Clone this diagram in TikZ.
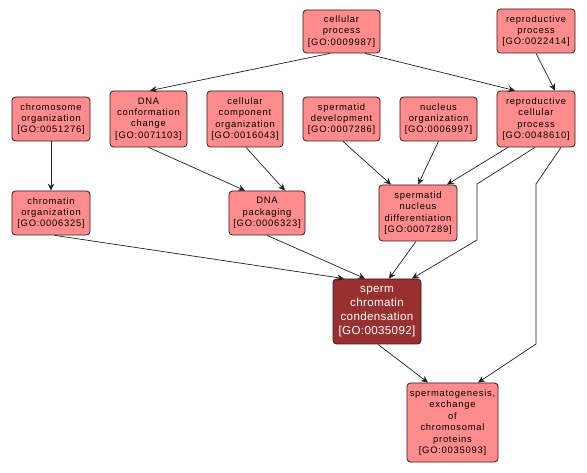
\documentclass[tikz,border=0pt]{standalone}
\usepackage{fontspec}
\setmainfont{Liberation Sans}
\newfontfamily\gofont[LetterSpace=8]{Liberation Sans}
\newfontfamily\gobigfont[LetterSpace=3]{Liberation Sans}
\usetikzlibrary{arrows.meta, positioning}
\definecolor{TermFill}{HTML}{FF8C8C}
\definecolor{TermDraw}{HTML}{3A1A1A}
\definecolor{FocusFill}{HTML}{983030}
\definecolor{LinkCol}{HTML}{202020}
\tikzset{
    goterm/.style={rectangle, rounded corners=3.5pt, fill=TermFill, draw=TermDraw, line width=0.8pt, align=center, inner sep=0pt,
        font=\gofont\fontsize{9.4}{11.4}\selectfont, text=black},
    gofocus/.style={goterm, fill=FocusFill, text=white, font=\gobigfont\fontsize{11.6}{14}\selectfont},
    rel/.style={-{Stealth[length=7pt, width=6.5pt, inset=2.5pt]}, line width=0.7pt, color=LinkCol},
}
\begin{document}
\begin{tikzpicture}[x=1pt, y=-1pt]
    \useasboundingbox[fill=white] (0,0) rectangle (587,473);
    % Termini GO
    \node[goterm, minimum width=77pt, minimum height=43pt] (cellproc) at (341.5,31.5) {cellular\\process\\{[GO:0009987]}};
    \node[goterm, minimum width=78pt, minimum height=44pt] (reproproc) at (536,31) {reproductive\\process\\{[GO:0022414]}};
    \node[goterm, minimum width=78pt, minimum height=44pt] (chromorg) at (51,119) {chromosome\\organization\\{[GO:0051276]}};
    \node[goterm, minimum width=77pt, minimum height=56pt] (dnaconf) at (148.5,119) {DNA\\conformation\\change\\{[GO:0071103]}};
    \node[goterm, minimum width=76pt, minimum height=56pt] (cellcomp) at (245,119) {cellular\\component\\organization\\{[GO:0016043]}};
    \node[goterm, minimum width=77pt, minimum height=44pt] (spdev) at (341.5,119) {spermatid\\development\\{[GO:0007286]}};
    \node[goterm, minimum width=77pt, minimum height=44pt] (nucorg) at (438.5,119) {nucleus\\organization\\{[GO:0006997]}};
    \node[goterm, minimum width=78pt, minimum height=56pt] (repcell) at (536,119) {reproductive\\cellular\\process\\{[GO:0048610]}};
    \node[goterm, minimum width=78pt, minimum height=44pt] (chromatin) at (51,213) {chromatin\\organization\\{[GO:0006325]}};
    \node[goterm, minimum width=76pt, minimum height=44pt] (dnapack) at (267,213) {DNA\\packaging\\{[GO:0006323]}};
    \node[goterm, minimum width=78pt, minimum height=56pt] (spnd) at (418,213) {spermatid\\nucleus\\differentiation\\{[GO:0007289]}};
    \node[gofocus, minimum width=88pt, minimum height=65pt] (scc) at (377,311.5) {sperm\\chromatin\\condensation\\{[GO:0035092]}};
    \node[goterm, minimum width=91pt, minimum height=79pt] (spex) at (452.5,422.5) {spermatogenesis,\\exchange\\of\\chromosomal\\proteins\\{[GO:0035093]}};

    % Punti di piega
    \coordinate (bendA1) at (477,184);
    \coordinate (bendA2) at (477,240);
    \coordinate (bendB1) at (536,184);
    \coordinate (bendB2) at (536,344);

    % Relazioni
    \draw[rel] ([xshift=-11.5pt]cellproc.south) -- ([xshift=1.5pt]dnaconf.north);
    \draw[rel] ([xshift=23.5pt]cellproc.south) -- ([xshift=-21pt]repcell.north);
    \draw[rel] (reproproc.south) -- ([xshift=19pt]repcell.north);
    \draw[rel] (chromorg.south) -- (chromatin.north);
    \draw[rel] (dnaconf.south) -- ([xshift=-22pt]dnapack.north);
    \draw[rel] ([xshift=1pt]cellcomp.south) -- ([xshift=18pt]dnapack.north);
    \draw[rel] ([xshift=1.5pt]spdev.south) -- ([xshift=-27pt]spnd.north);
    \draw[rel] (nucorg.south) -- (spnd.north);
    \draw[rel] ([xshift=-28pt]repcell.south) -- ([xshift=29pt]spnd.north);
    \draw[rel] ([xshift=-1pt]repcell.south) -- (bendA1) -- (bendA2) -- ([xshift=35pt]scc.north);
    \draw[rel] ([xshift=25pt]repcell.south) -- (bendB1) -- (bendB2) -- ([xshift=25.5pt]spex.north);
    \draw[rel] ([xshift=4pt]chromatin.south) -- ([xshift=-33pt]scc.north);
    \draw[rel] (dnapack.south) -- ([xshift=-12pt]scc.north);
    \draw[rel] ([xshift=-2pt]spnd.south) -- ([xshift=12pt]scc.north);
    \draw[rel] ([xshift=1pt]scc.south) -- ([xshift=-24.5pt]spex.north);
\end{tikzpicture}
\end{document}
